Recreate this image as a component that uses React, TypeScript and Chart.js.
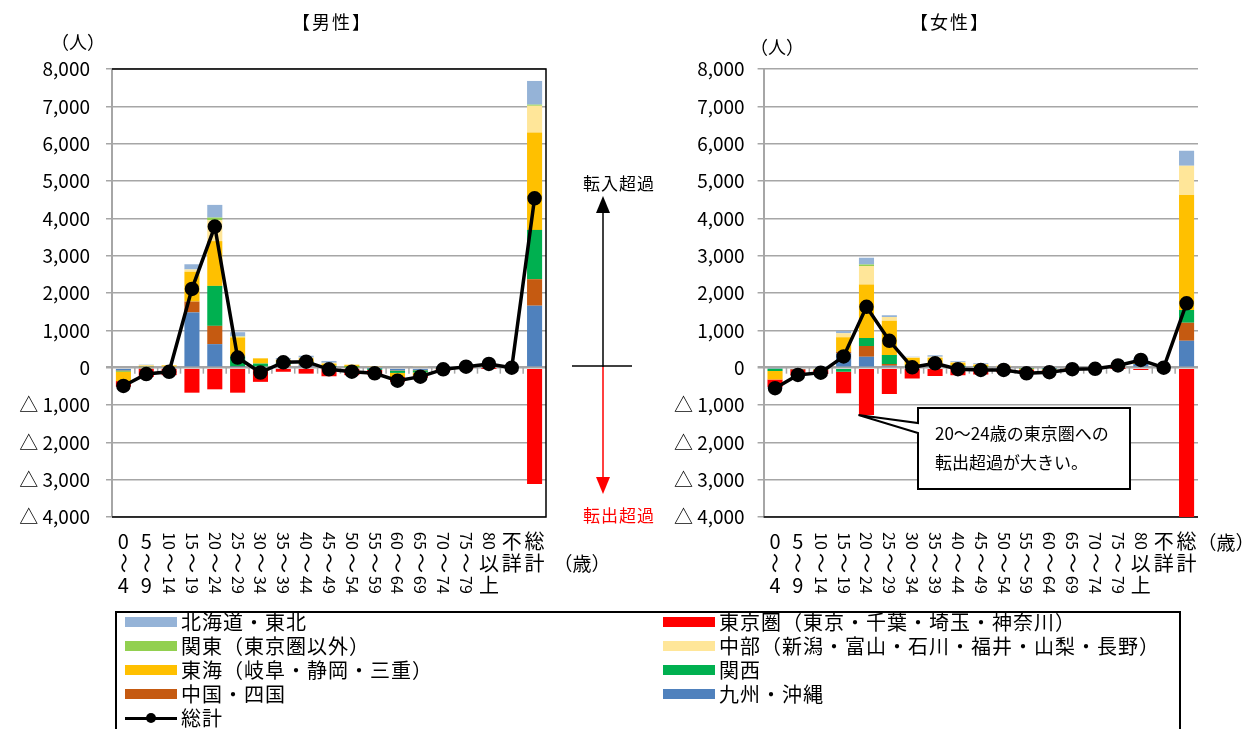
import React, { useEffect, useRef } from "react";
import { Chart, registerables } from "chart.js";
Chart.register(...registerables);

const FONT = "'Noto Sans CJK JP', 'Noto Sans', sans-serif";

const categories = ["0～4", "5～9", "10～14", "15～19", "20～24", "25～29", "30～34", "35～39", "40～44", "45～49", "50～54", "55～59", "60～64", "65～69", "70～74", "75～79", "80以上", "不詳", "総計"];

// Series (stack order bottom-up)
const seriesNames = ["九州・沖縄", "中国・四国", "関西", "東海（岐阜・静岡・三重）", "中部（新潟・富山・石川・福井・山梨・長野）", "関東（東京圏以外）", "東京圏（東京・千葉・埼玉・神奈川）", "北海道・東北"];
const seriesColors = ["#4F81BD", "#C55A11", "#00B050", "#FFC000", "#FFE699", "#92D050", "#FF0000", "#95B3D7"];

// Male values
const maleKyushu = [-70, 10, 0, 1480, 630, 20, 0, 40, 60, 20, 0, -20, -70, -60, -10, 0, 30, 0, 1660];
const maleChugoku = [-10, 0, 0, 290, 490, 10, 0, 30, 30, 0, 0, 0, -10, -10, 0, 0, 0, 0, 710];
const maleKansai = [-20, -30, 0, 0, 1070, 270, 110, 60, 60, 30, 10, -40, -60, -60, -10, 0, 0, 0, 1320];
const maleTokai = [-260, 40, 60, 800, 1200, 510, 140, 80, 100, 60, 60, 40, -110, -80, -20, 10, 40, 0, 2610];
const maleChubu = [0, 20, 10, 60, 560, 20, 0, 10, 20, 20, 20, 0, 0, 40, 0, 0, 0, 0, 715];
const maleKanto = [0, 0, 0, 0, 70, 10, 0, 0, 0, 0, 0, 0, 0, 0, 0, 0, 0, 0, 30];
const maleTokyo = [-150, -220, -200, -670, -580, -670, -380, -110, -160, -230, -200, -130, -130, -60, -30, -20, -10, 0, -3115];
const maleHokkaido = [0, 10, 0, 140, 340, 110, 0, 40, 50, 50, 0, 0, 30, 0, 20, 30, 40, 0, 635];
const maleTotal = [-490, -170, -110, 2110, 3780, 270, -130, 145, 160, -45, -107, -150, -350, -240, -45, 27, 100, 0, 4537];

// Female values
const femaleKyushu = [-30, 0, 0, 386, 295, 54, 0, 40, 20, 0, 0, 0, -20, 0, 0, 20, 100, 0, 723];
const femaleChugoku = [0, 0, 0, 43, 284, 45, 0, 0, 0, 0, 0, 0, 0, 0, 0, 0, 0, 0, 482];
const femaleKansai = [-60, -40, -40, -107, 214, 241, 60, 50, 30, 20, 0, -20, -20, 0, 0, 0, 0, 0, 340];
const femaleTokai = [-230, 0, -20, 386, 1436, 919, 200, 170, 80, 60, 40, -30, -30, -10, -10, 20, 60, 0, 3081];
const femaleChubu = [0, 0, 0, 107, 493, 99, 20, 30, 20, 20, 20, 0, 0, 0, 0, 0, 20, 0, 785];
const femaleKanto = [0, 0, 0, 0, 43, 0, 0, 0, 0, 0, 0, 0, 0, 0, 0, 0, 0, 0, 0];
const femaleTokyo = [-200, -160, -110, -575, -1270, -705, -290, -220, -200, -180, -120, -100, -50, -30, -20, -10, -60, 0, -4090];
const femaleHokkaido = [-30, 0, 40, 62, 179, 45, 15, 40, 20, 20, 0, 0, 0, 0, 0, 30, 80, 0, 402];
const femaleTotal = [-550, -196, -134, 300, 1630, 720, 10, 118, -40, -60, -60, -150, -120, -40, -30, 60, 206, 0, 1725];

const maleSeries = [maleKyushu, maleChugoku, maleKansai, maleTokai, maleChubu, maleKanto, maleTokyo, maleHokkaido];
const femaleSeries = [femaleKyushu, femaleChugoku, femaleKansai, femaleTokai, femaleChubu, femaleKanto, femaleTokyo, femaleHokkaido];

// Legend order (indices into seriesNames), -1 = total line
const legendOrder = [7, 6, 5, 4, 3, 2, 1, 0, -1];
const totalName = "総計";

const yMin = -4000;
const yMax = 8000;
const yStep = 1000;

function fmtTick(v: number): string {
  const a = Math.abs(v).toLocaleString("en-US");
  return v < 0 ? "△ " + a : a;
}

function drawVerticalLabels(chart: any) {
  const ctx = chart.ctx;
  const xs = chart.scales.x;
  ctx.save();
  ctx.fillStyle = "#000";
  ctx.textAlign = "center";
  ctx.textBaseline = "middle";
  categories.forEach((lab, i) => {
    const x = xs.getPixelForValue(i);
    const tokens = lab.match(/[0-9]+|./g) || [];
    let y = 541;
    tokens.forEach((t) => {
      const isNum = /^[0-9]+$/.test(t);
      if ((isNum && t.length > 1) || t === "～") {
        ctx.save();
        ctx.translate(x, y);
        ctx.rotate(Math.PI / 2);
        ctx.font = (isNum ? "16px " : "20px ") + FONT;
        ctx.fillText(t, 0, 0);
        ctx.restore();
      } else {
        ctx.font = "20px " + FONT;
        ctx.fillText(t, x, y);
      }
      y += 22;
    });
  });
  ctx.restore();
}

function makeConfig(opts: any) {
  const { series, total, W, H, areaLeft, areaRight, tickPad, frame, title, titleX, unitX, unitY, ageX, ageY, extra } = opts;
  const datasets: any[] = [
    {
      type: "line",
      label: totalName,
      data: total,
      borderColor: "#000",
      backgroundColor: "#000",
      borderWidth: 3.5,
      pointRadius: 5.5,
      pointBackgroundColor: "#000",
      pointBorderColor: "#000",
      tension: 0,
    },
  ];
  series.forEach((d: number[], i: number) => {
    datasets.push({
      type: "bar",
      label: seriesNames[i],
      data: d,
      backgroundColor: seriesColors[i],
      borderWidth: 0,
      stack: "s",
      barPercentage: 0.66,
      categoryPercentage: 1,
      clip: 0,
    });
  });
  const plugin = {
    id: "decor",
    beforeDatasetsDraw(chart: any) {
      const ctx = chart.ctx;
      const a = chart.chartArea;
      const ys = chart.scales.y;
      const y0 = ys.getPixelForValue(0);
      const n = categories.length;
      const step = (a.right - a.left) / n;
      ctx.save();
      ctx.strokeStyle = "#A6A6A6";
      ctx.lineWidth = 1.5;
      for (let i = 1; i < n; i++) {
        const x = a.left + i * step;
        ctx.beginPath();
        ctx.moveTo(x, y0);
        ctx.lineTo(x, y0 + 6);
        ctx.stroke();
      }
      ctx.strokeStyle = "#000";
      ctx.lineWidth = 1.5;
      ctx.beginPath();
      if (frame) {
        ctx.moveTo(a.left, a.top);
        ctx.lineTo(a.right, a.top);
        ctx.lineTo(a.right, a.bottom);
        ctx.lineTo(a.left, a.bottom);
      } else {
        ctx.moveTo(a.left, a.bottom);
        ctx.lineTo(a.right, a.bottom);
      }
      ctx.stroke();
      ctx.restore();
    },
    afterDraw(chart: any) {
      const ctx = chart.ctx;
      ctx.save();
      ctx.fillStyle = "#000";
      ctx.textBaseline = "middle";
      ctx.textAlign = "center";
      ctx.font = "18px " + FONT;
      (ctx as any).letterSpacing = "2px";
      ctx.fillText(title, titleX, 22);
      (ctx as any).letterSpacing = "0px";
      ctx.fillText("（人）", unitX, unitY);
      ctx.font = "19px " + FONT;
      ctx.fillText("（歳）", ageX, ageY);
      ctx.restore();
      drawVerticalLabels(chart);
      if (extra) extra(chart);
    },
  };
  return {
    type: "bar",
    data: { labels: categories, datasets },
    options: {
      responsive: false,
      animation: false,
      devicePixelRatio: 1,
      layout: { padding: { left: 0, top: 69, right: W - areaRight, bottom: H - 517 } },
      plugins: { legend: { display: false }, tooltip: { enabled: false }, title: { display: false } },
      scales: {
        x: { display: false, stacked: true },
        y: {
          stacked: true,
          min: yMin,
          max: yMax,
          afterFit: (s: any) => {
            s.width = areaLeft;
          },
          ticks: {
            stepSize: yStep,
            padding: tickPad,
            color: "#000",
            font: { family: FONT, size: 19 },
            callback: (v: any) => fmtTick(Number(v)),
          },
          grid: {
            color: "#A6A6A6",
            lineWidth: (c: any) => (c.tick && c.tick.value === 0 ? 2.5 : 1.5),
            tickLength: 6,
            tickColor: "#A6A6A6",
          },
          border: { display: true, color: "#A6A6A6", width: 2 },
        },
      },
    },
    plugins: [plugin],
  };
}

function maleExtra(chart: any) {
  const ctx = chart.ctx;
  ctx.save();
  ctx.lineWidth = 1.5;
  ctx.strokeStyle = "#000";
  ctx.beginPath();
  ctx.moveTo(572, 366);
  ctx.lineTo(632, 366);
  ctx.stroke();
  ctx.beginPath();
  ctx.moveTo(603, 210);
  ctx.lineTo(603, 367);
  ctx.stroke();
  ctx.fillStyle = "#000";
  ctx.beginPath();
  ctx.moveTo(603, 196);
  ctx.lineTo(596, 213);
  ctx.lineTo(610, 213);
  ctx.closePath();
  ctx.fill();
  ctx.strokeStyle = "#FF0000";
  ctx.beginPath();
  ctx.moveTo(603, 367);
  ctx.lineTo(603, 480);
  ctx.stroke();
  ctx.fillStyle = "#FF0000";
  ctx.beginPath();
  ctx.moveTo(603, 494);
  ctx.lineTo(596, 477);
  ctx.lineTo(610, 477);
  ctx.closePath();
  ctx.fill();
  ctx.font = "17px " + FONT;
  ctx.textAlign = "center";
  ctx.textBaseline = "middle";
  (ctx as any).letterSpacing = "1px";
  ctx.fillStyle = "#000";
  ctx.fillText("転入超過", 619, 184);
  ctx.fillStyle = "#FF0000";
  ctx.fillText("転出超過", 619, 516);
  ctx.restore();
}

const calloutLines = ["20～24歳の東京圏への", "転出超過が大きい。"];

function femaleExtra(chart: any) {
  const ctx = chart.ctx;
  const xs = chart.scales.x;
  const ys = chart.scales.y;
  const tx = xs.getPixelForValue(4) - 8;
  const ty = ys.getPixelForValue(femaleTokyo[4]);
  const x0 = 263, y0 = 408, x1 = 475, y1 = 489;
  ctx.save();
  ctx.beginPath();
  ctx.moveTo(x0, y0);
  ctx.lineTo(x1, y0);
  ctx.lineTo(x1, y1);
  ctx.lineTo(x0, y1);
  ctx.lineTo(x0, 433);
  ctx.lineTo(tx, ty);
  ctx.lineTo(x0, 423);
  ctx.closePath();
  ctx.fillStyle = "#fff";
  ctx.fill();
  ctx.strokeStyle = "#000";
  ctx.lineWidth = 2;
  ctx.stroke();
  ctx.fillStyle = "#000";
  ctx.font = "17px " + FONT;
  ctx.textAlign = "left";
  ctx.textBaseline = "middle";
  ctx.fillText(calloutLines[0], x0 + 17, 434);
  ctx.fillText(calloutLines[1], x0 + 17, 463);
  ctx.restore();
}

export default function App() {
  const maleRef = useRef<HTMLCanvasElement>(null);
  const femaleRef = useRef<HTMLCanvasElement>(null);
  useEffect(() => {
    const m = new Chart(maleRef.current as any, makeConfig({
      series: maleSeries, total: maleTotal, W: 660, H: 610, areaLeft: 112, areaRight: 546, tickPad: 16, frame: true,
      title: "【男性】", titleX: 332, unitX: 78, unitY: 42, ageX: 582, ageY: 564, extra: maleExtra,
    }) as any);
    const f = new Chart(femaleRef.current as any, makeConfig({
      series: femaleSeries, total: femaleTotal, W: 602, H: 610, areaLeft: 108.6, areaRight: 543, tickPad: 13, frame: false,
      title: "【女性】", titleX: 295, unitX: 122, unitY: 47, ageX: 571, ageY: 543, extra: femaleExtra,
    }) as any);
    return () => {
      m.destroy();
      f.destroy();
    };
  }, []);

  const legendItems = legendOrder.map((k) => (k < 0 ? { name: totalName, color: "#000", line: true } : { name: seriesNames[k], color: seriesColors[k], line: false }));

  return (
    <div style={{ position: "absolute", left: 0, top: 0, width: 1257, height: 729, overflow: "hidden", background: "#fff" }}>
      <canvas ref={maleRef} width={660} height={610} style={{ position: "absolute", left: 0, top: 0 }} />
      <canvas ref={femaleRef} width={602} height={610} style={{ position: "absolute", left: 655, top: 0 }} />
      <div style={{ position: "absolute", left: 115, top: 611, width: 1066, height: 140, border: "2px solid #000", boxSizing: "border-box", background: "#fff", fontFamily: FONT }}>
        {legendItems.map((it, i) => {
          const col = i % 2;
          const row = Math.floor(i / 2);
          return (
            <div key={i} style={{ position: "absolute", left: col === 0 ? 8 : 546, top: 9 + 24 * row - 12, height: 24, display: "flex", alignItems: "center", whiteSpace: "nowrap" }}>
              {it.line ? (
                <div style={{ position: "relative", width: 52, height: 12 }}>
                  <div style={{ position: "absolute", left: 0, top: 4.5, width: 52, height: 3, background: "#000" }} />
                  <div style={{ position: "absolute", left: 21, top: 1, width: 10, height: 10, borderRadius: 5, background: "#000" }} />
                </div>
              ) : (
                <div style={{ width: 52, height: 10, background: it.color }} />
              )}
              <span style={{ marginLeft: 4, fontSize: 20, letterSpacing: 1, color: "#000", lineHeight: "24px" }}>{it.name}</span>
            </div>
          );
        })}
      </div>
    </div>
  );
}
